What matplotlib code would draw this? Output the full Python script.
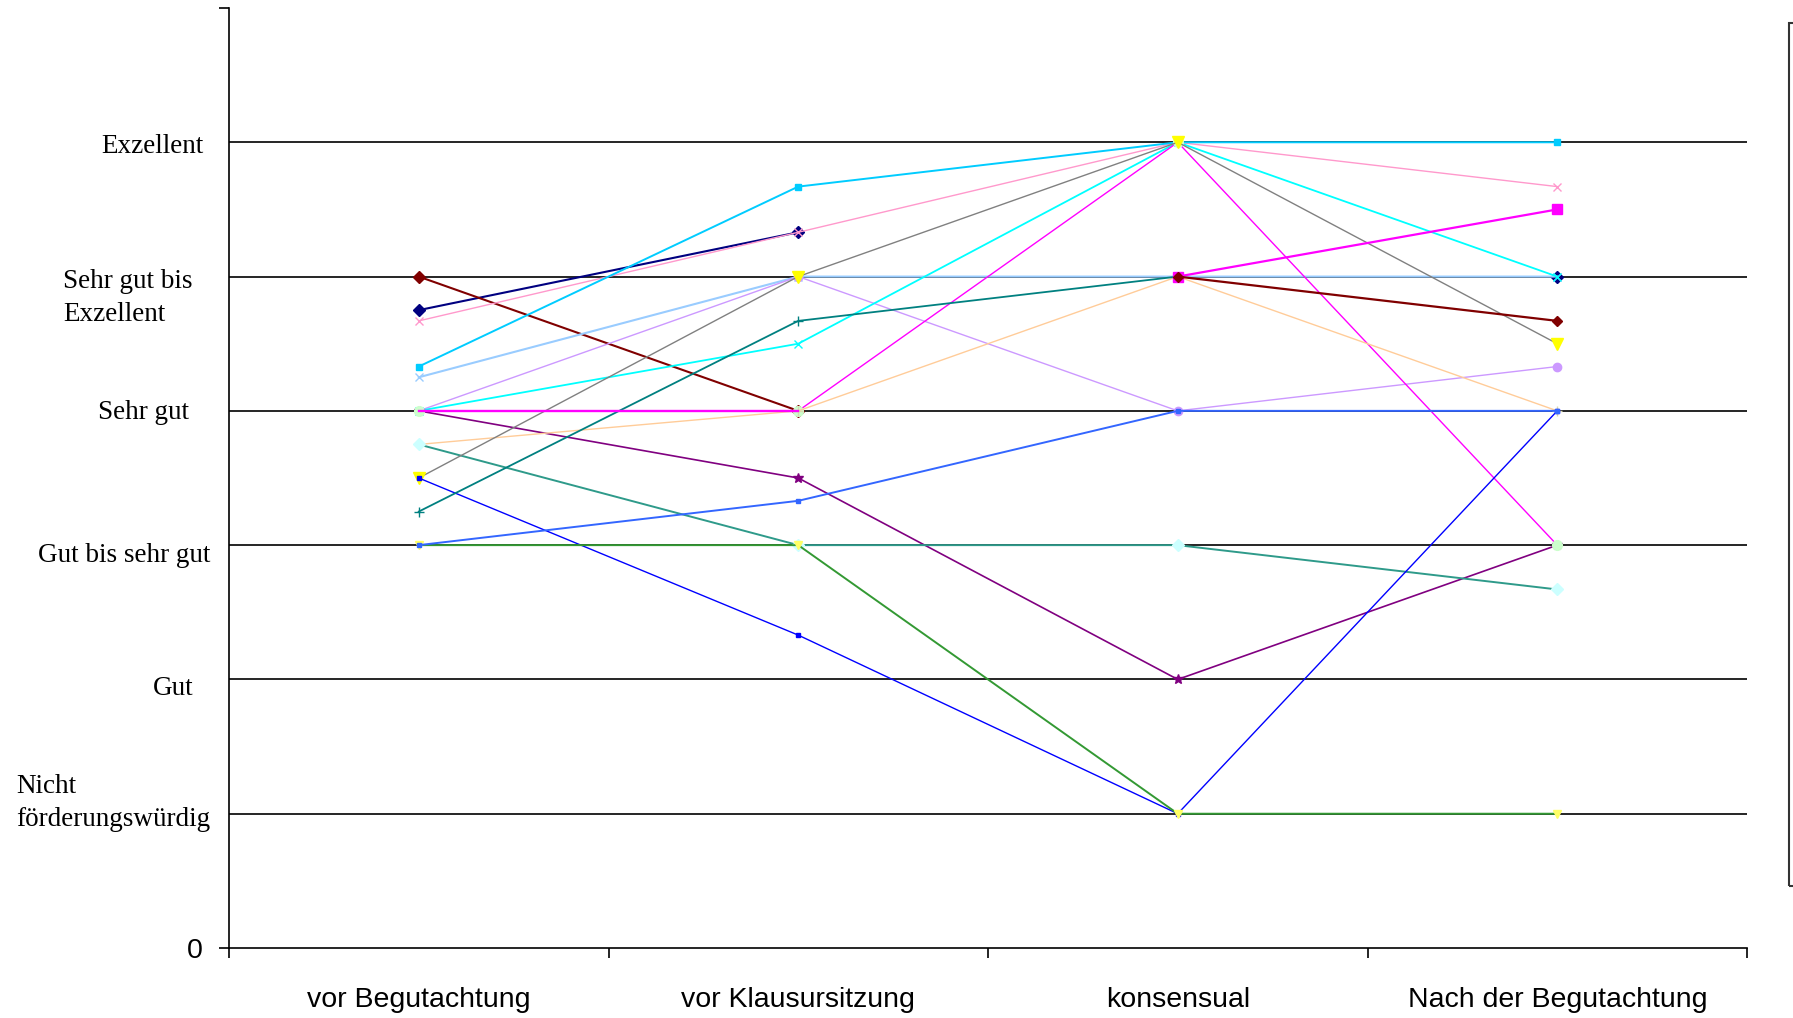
import numpy as np
import matplotlib.pyplot as plt
from matplotlib.patches import Rectangle
from matplotlib.transforms import blended_transform_factory

nan = np.nan

## Data: categories on x, rating levels on y (1 = Nicht förderungswürdig ... 6 = Exzellent)
categories = ["vor Begutachtung", "vor Klausursitzung", "konsensual", "Nach der Begutachtung"]
levels = [1, 2, 3, 4, 5, 6]
level_labels = ["Nicht\nförderungswürdig", "Gut", "Gut bis sehr gut", "Sehr gut",
                "Sehr gut bis\nExzellent", "Exzellent"]

## one list per proposal, values at the four stages (nan = no visible segment)
navy       = [4.75, 5.33, nan, 5.0]
maroon_a   = [5.0, 4.0, nan, nan]
maroon_b   = [nan, nan, 5.0, 4.67]
magenta    = [4.0, 4.0, 6.0, 3.0]
magenta_sq = [nan, nan, 5.0, 5.5]
grey       = [3.5, 5.0, 6.0, 4.5]
cyan       = [4.0, 4.5, 6.0, 5.0]
purple     = [4.0, 3.5, 2.0, 3.0]
teal       = [3.25, 4.67, 5.0, nan]
blue       = [3.5, 2.33, 1.0, 4.0]
skyblue    = [4.33, 5.67, 6.0, 6.0]
turquoise  = [3.75, 3.0, 3.0, 2.67]
green      = [3.0, 3.0, 1.0, 1.0]
paleblue   = [4.25, 5.0, 5.0, 5.0]
pink       = [4.67, 5.33, 6.0, 5.67]
lavender   = [4.0, 5.0, 4.0, 4.33]
peach      = [3.75, 4.0, 5.0, 4.0]
royal      = [3.0, 3.33, 4.0, 4.0]

## (values, line colour, line width, marker, marker colour, marker size)
series = [
    (navy,       "#000080", 1.5, "D", "#000080", 6),
    (maroon_a,   "#800000", 1.5, "D", "#800000", 6),
    (pink,       "#FF99CC", 1.0, "x", "#FF99CC", 6),
    (skyblue,    "#00CCFF", 1.4, "s", "#00CCFF", 4),
    (paleblue,   "#99CCFF", 1.5, "x", "#99CCFF", 6),
    (lavender,   "#CC99FF", 1.0, "o", "#CC99FF", 6),
    (cyan,       "#00FFFF", 1.3, "x", "#00FFFF", 6),
    (purple,     "#800080", 1.2, "*", "#800080", 7),
    (magenta,    "#FF00FF", 1.0, "o", "#CCFFCC", 7),
    (peach,      "#FFCC99", 1.0, "+", "#D8D8B0", 7),
    (turquoise,  "#2E9A8A", 1.4, "D", "#CCFFFF", 6),
    (grey,       "#808080", 1.0, "v", "#FFFF00", 8),
    (blue,       "#0000FF", 1.0, "s", "#0000FF", 3),
    (teal,       "#008080", 1.3, "+", "#008080", 7),
    (green,      "#339933", 1.4, "v", "#FFFF66", 6),
    (royal,      "#3366FF", 1.4, "s", "#3366FF", 3),
    (magenta_sq, "#FF00FF", 1.6, "s", "#FF00FF", 7),
    (maroon_b,   "#800000", 1.6, "D", "#800000", 5),
]

W, H = 1793, 1018
fig = plt.figure(figsize=(W / 100, H / 100), dpi=100)
ax = fig.add_axes([229 / W, 70 / H, (1747 - 229) / W, (948 - 8) / H])

x = np.arange(len(categories)) + 0.5

## rating level lines
ax.hlines(levels, 0, len(categories), color="black", lw=1.2, zorder=1)

for vals, lc, lw, mk, mc, ms in series:
    ax.plot(x, vals, color=lc, lw=lw, marker=mk, markersize=ms,
            markerfacecolor=mc, markeredgecolor=mc, zorder=3)

## the first stretch of the magenta line is drawn heavier in the original
ax.plot(x[:2], magenta[:2], color="#FF00FF", lw=1.7, zorder=3)

ax.set_xlim(0, len(categories))
ax.set_ylim(0, 7)

for s in ["top", "right"]:
    ax.spines[s].set_visible(False)
ax.spines["left"].set_linewidth(1.2)
ax.spines["bottom"].set_linewidth(1.2)

## x axis: boundary ticks, labels in the middle of each category
ax.set_xticks(np.arange(len(categories) + 1))
ax.set_xticklabels([])
ax.set_xticks(x, minor=True)
ax.set_xticklabels(categories, minor=True, fontsize=20.5, family="Liberation Sans")
ax.tick_params(axis="x", which="major", direction="out", length=7, width=1.2)
ax.tick_params(axis="x", which="minor", length=0, pad=28)

## y axis: only 0 carries a number, the rating names are free text
ax.set_yticks([0, 7])
ax.set_yticklabels(["0", ""], fontsize=20.5, family="Liberation Sans")
ax.tick_params(axis="y", direction="out", length=7, width=1.2, pad=12)

trans = blended_transform_factory(fig.transFigure, ax.transData)
label_pos = [(16, "left", 1.08), (194, "right", 1.93), (38, "left", 2.92),
             (189, "right", 3.99), (63, "left", 4.84), (204, "right", 5.97)]
for (px, ha, yv), txt in zip(label_pos, level_labels):
    ax.text(px / W, yv, txt, transform=trans, ha=ha, va="center", ma="left",
            fontsize=19.5, family="Liberation Serif", linespacing=1.45)

## empty legend frame cut off at the right edge
fig.add_artist(Rectangle((1789 / W, (H - 886) / H), 0.05, 863 / H,
                         transform=fig.transFigure, fill=False,
                         edgecolor="#333333", lw=1.5))

plt.savefig("out.png", dpi=100)
